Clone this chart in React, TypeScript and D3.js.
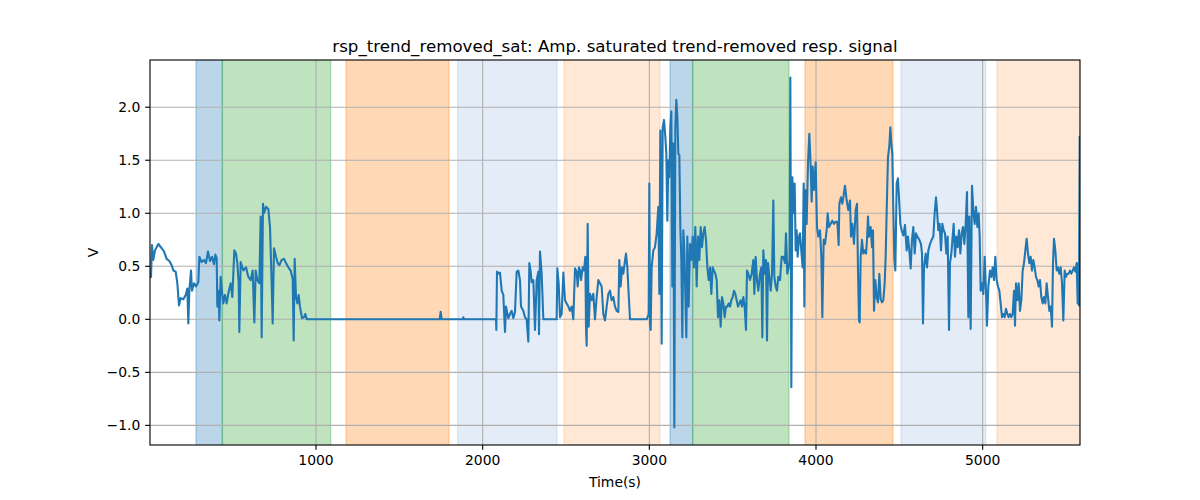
import React from "react";
import * as d3 from "d3";

const TITLE = "rsp_trend_removed_sat: Amp. saturated trend-removed resp. signal";
const X_LABEL = "Time(s)";
const Y_LABEL = "V";

const X_TICKS = [1000, 2000, 3000, 4000, 5000];
const Y_TICKS = [-1.0, -0.5, 0.0, 0.5, 1.0, 1.5, 2.0];

const SPAN_STARTS = [280, 438, 1180, 1850, 2488, 3124, 3260, 3934, 4510, 5086];
const SPAN_ENDS = [438, 1088, 1798, 2446, 3064, 3260, 3838, 4462, 5018, 5584];
const SPAN_KINDS = ["blue", "green", "orange", "lightblue", "lightorange", "blue", "green", "orange", "lightblue", "lightorange"];

const SPAN_STYLE: Record<string, { color: string; opacity: number }> = {
  blue: { color: "#1f77b4", opacity: 0.3 },
  green: { color: "#2ca02c", opacity: 0.3 },
  orange: { color: "#ff7f0e", opacity: 0.3 },
  lightblue: { color: "#78a0d7", opacity: 0.2 },
  lightorange: { color: "#ff7f0e", opacity: 0.17 },
};

// [time (s), amplitude (V)]
const SIGNAL: [number, number][] = [
  [4, 0.40], [10, 0.40], [16, 0.70], [24, 0.56], [34, 0.65], [54, 0.71], [74, 0.67], [88, 0.64], [104, 0.57], [120, 0.55],
  [134, 0.51], [144, 0.46], [158, 0.45], [168, 0.34], [178, 0.13], [188, 0.20], [204, 0.19], [218, 0.23], [228, 0.29], [234, -0.04],
  [240, 0.27], [250, 0.46], [256, 0.27], [268, 0.34], [280, 0.31], [294, 0.35], [300, 0.59], [314, 0.54], [328, 0.56], [340, 0.53],
  [352, 0.64], [364, 0.55], [376, 0.59], [388, 0.52], [396, 0.61], [404, 0.58], [408, 0.12], [416, 0.27], [420, -0.01], [428, 0.40],
  [436, 0.26], [444, 0.15], [454, 0.23], [464, 0.15], [476, 0.26], [488, 0.34], [498, 0.21], [510, 0.65], [520, 0.62], [528, 0.53],
  [536, 0.34], [540, -0.12], [548, 0.54], [564, 0.46], [580, 0.49], [594, 0.40], [608, 0.37], [620, 0.46], [630, -0.03], [638, 0.46],
  [648, 0.37], [660, 0.34], [668, 0.97], [674, -0.17], [682, 1.09], [688, 1.00], [700, 1.06], [714, 1.04], [724, 0.87], [734, 0.34],
  [740, -0.04], [748, 0.67], [760, 0.59], [770, 0.53], [780, 0.51], [794, 0.56], [808, 0.57], [820, 0.53], [834, 0.49], [848, 0.46],
  [860, 0.38], [866, -0.20], [872, 0.57], [880, 0.21], [888, 0.15], [896, 0.23], [904, 0.12], [916, 0.01], [928, 0.02], [936, 0.05],
  [944, 0.0], [1742, 0.0], [1748, 0.07], [1754, 0.0], [1880, 0.0], [1884, 0.02], [1888, 0.0],
  [2080, 0.0], [2082, -0.10], [2086, 0.45], [2094, 0.43], [2104, 0.44], [2114, 0.27], [2124, 0.23], [2134, -0.12], [2140, 0.12], [2154, 0.01],
  [2164, 0.05], [2174, 0.08], [2184, 0.01], [2194, 0.07], [2204, 0.45], [2214, 0.46], [2224, 0.37], [2230, 0.12], [2244, 0.08], [2254, 0.02],
  [2264, 0.0], [2274, -0.21], [2280, 0.53], [2288, 0.45], [2294, 0.35], [2304, 0.37], [2314, -0.10], [2324, 0.37], [2334, 0.45], [2338, -0.14],
  [2344, 0.64], [2354, 0.43], [2364, 0.0], [2444, 0.0], [2448, 0.48], [2456, 0.34], [2464, 0.02], [2474, 0.05], [2484, 0.44], [2494, 0.18],
  [2504, 0.15], [2514, 0.12], [2524, 0.08], [2534, 0.12], [2544, 0.0], [2554, 0.48], [2564, 0.45], [2570, 0.31], [2578, 0.49], [2584, 0.46],
  [2590, 0.37], [2600, 0.49], [2608, 0.46], [2616, 0.59], [2620, -0.07], [2624, -0.25], [2630, 0.90], [2636, -0.07], [2644, 0.24], [2654, 0.18],
  [2664, 0.24], [2674, 0.0], [2684, 0.21], [2694, 0.37],
  [2704, 0.34], [2714, 0.31], [2724, 0.05], [2734, -0.01], [2744, 0.12], [2754, 0.24], [2764, 0.27], [2774, 0.18], [2784, 0.21], [2794, 0.12],
  [2804, 0.08], [2814, 0.07], [2820, 0.56], [2828, 0.31], [2836, 0.49], [2844, 0.43], [2852, 0.53], [2860, 0.62], [2868, 0.49], [2876, 0.24],
  [2884, 0.0], [2984, 0.0], [2996, 0.05], [3000, 1.28], [3004, -0.04], [3008, -0.10], [3014, 0.49], [3024, 0.65], [3034, 0.68], [3044, 0.81],
  [3054, 1.06], [3060, 0.24], [3066, 1.78], [3074, -0.23], [3080, 1.81], [3088, 1.88], [3096, 1.72], [3102, 1.56], [3108, 0.93], [3114, 1.50],
  [3120, 1.34], [3126, 1.81], [3132, 1.96], [3138, 0.31], [3144, 1.66], [3150, -1.02], [3156, 1.81], [3162, 2.07], [3168, 1.91], [3174, 1.56],
  [3180, 1.55], [3186, 0.87], [3192, 0.56], [3198, -0.17], [3204, 0.84], [3210, 0.65], [3216, 0.24], [3222, -0.17], [3228, 0.78], [3236, 0.12],
  [3244, 0.71], [3252, 0.56], [3260, 0.78], [3268, 0.49], [3276, 0.87], [3284, 0.31], [3292, 0.78], [3300, 0.56], [3308, 0.87], [3316, 0.68],
  [3324, 0.81], [3332, 0.87], [3340, 0.75], [3348, 0.49], [3356, 0.37], [3364, 0.49], [3372, 0.24], [3380, 0.49], [3388, 0.46], [3396, 0.43],
  [3404, 0.37], [3412, 0.02], [3420, 0.18], [3428, -0.07], [3436, 0.21], [3444, 0.15], [3452, 0.02], [3460, 0.12], [3468, 0.12], [3476, 0.15],
  [3484, 0.12], [3492, 0.18], [3500, 0.21], [3508, 0.27], [3516, 0.24], [3524, 0.18], [3532, 0.12], [3540, 0.15], [3548, 0.18], [3556, 0.12],
  [3564, 0.21], [3572, 0.12], [3580, -0.10], [3586, 0.46], [3594, 0.43], [3604, 0.37], [3614, 0.43], [3624, 0.56], [3630, 0.24], [3638, 0.59],
  [3646, 0.37], [3654, 0.27], [3664, 0.43], [3672, 0.49], [3678, -0.17], [3684, 0.65], [3692, 0.43], [3700, 0.56], [3706, -0.20], [3712, 0.53],
  [3720, 0.40], [3728, 0.27], [3736, 0.43], [3744, 1.12], [3750, 0.40], [3758, 0.31], [3766, 0.27], [3774, 0.40], [3784, 0.37], [3794, 0.59],
  [3804, 0.59], [3814, 0.53], [3820, 0.81], [3828, 0.43], [3836, 0.49], [3842, 0.56], [3846, 2.28], [3852, -0.64], [3858, 1.34],
  [3866, 1.00], [3872, 1.28], [3878, 0.65], [3884, 0.84], [3890, 0.59], [3898, 0.78], [3904, 0.81], [3910, 0.68], [3920, 0.49], [3926, 1.28],
  [3930, 0.12], [3936, 1.22], [3944, 0.90], [3952, 1.47], [3960, 1.75], [3966, 1.53], [3974, 1.11], [3980, 1.44], [3988, 1.22], [3998, 1.48],
  [4006, 0.87], [4014, 0.78], [4024, 0.84], [4032, 0.59], [4038, 0.02], [4046, 0.75], [4054, 0.71], [4064, 0.84], [4070, 1.00], [4078, 0.87],
  [4088, 0.90], [4098, 0.93], [4108, 0.90], [4118, 0.92], [4128, 0.92], [4136, 0.70], [4140, 1.09], [4150, 1.15], [4158, 1.09], [4164, 1.15],
  [4174, 1.26], [4184, 1.12], [4194, 1.03], [4204, 1.12], [4210, 0.78], [4218, 0.90], [4228, 0.71], [4238, 1.03], [4246, 1.09], [4252, 0.46],
  [4258, -0.01], [4262, -0.03], [4268, 0.59], [4276, 0.75], [4284, 0.62], [4292, 0.65], [4300, 0.62], [4306, 0.75], [4312, 0.97], [4318, 0.78],
  [4328, 0.87], [4336, 0.68], [4342, 0.84], [4348, 0.08], [4356, 0.37], [4364, 0.21], [4372, 0.16], [4380, 0.43], [4388, 0.19], [4396, 0.16],
  [4404, 0.18], [4412, 0.34], [4418, 0.59], [4426, 1.15], [4432, 1.53], [4440, 1.63], [4446, 1.81], [4452, 1.66], [4458, 1.56], [4464, 1.03],
  [4470, 0.56], [4476, 0.46], [4484, 1.28], [4492, 1.33], [4498, 1.15], [4506, 0.90], [4514, 0.84], [4524, 0.79], [4534, 0.89], [4544, 0.65],
  [4552, 0.78], [4560, 0.65], [4568, 0.48], [4576, 0.75], [4584, 0.87], [4592, 0.62], [4600, 0.81], [4608, 0.78], [4620, 0.75], [4630, 0.71],
  [4636, 0.62], [4642, -0.04], [4648, 0.49], [4658, 0.62], [4666, 0.49], [4674, 0.65], [4684, 0.71], [4694, 0.75], [4704, 0.78], [4712, 1.00],
  [4720, 1.15], [4726, 1.03], [4734, 0.84], [4742, 0.90], [4750, 0.65], [4758, 0.90], [4766, 0.84], [4774, 0.81], [4782, 0.62], [4790, 0.78],
  [4798, -0.10], [4804, 0.53], [4812, 0.62], [4820, 0.78], [4826, 0.90], [4834, 0.59], [4842, 0.78], [4850, 0.68], [4858, 0.84], [4866, 0.62],
  [4874, 0.81], [4882, 0.87], [4890, 0.71], [4898, 0.90], [4906, 1.20], [4914, 0.02], [4920, 0.97], [4928, -0.09], [4936, 1.26], [4944, 1.03],
  [4952, 0.90], [4960, 1.06], [4968, 0.87], [4976, 1.00], [4982, 0.78], [4988, 0.27], [4996, 0.34], [5004, 0.24], [5012, 0.59], [5020, 0.27],
  [5026, -0.06], [5034, 0.31], [5044, 0.46], [5052, 0.40], [5060, 0.49], [5068, 0.37], [5076, 0.59], [5084, 0.37], [5092, 0.31], [5100, 0.27],
  [5108, 0.15], [5116, 0.02], [5124, 0.05], [5132, 0.02], [5140, 0.10], [5148, 0.05], [5156, 0.02], [5164, 0.05], [5172, 0.02], [5180, 0.05],
  [5188, 0.27], [5194, -0.06], [5200, 0.34], [5208, 0.18], [5216, 0.34], [5224, 0.08], [5232, 0.18], [5240, 0.46], [5248, 0.53], [5256, 0.65],
  [5264, 0.76], [5272, 0.62], [5280, 0.53], [5288, 0.59], [5296, 0.46], [5304, 0.56], [5312, 0.49], [5320, 0.40], [5328, 0.37], [5336, 0.31],
  [5344, 0.37], [5352, 0.21], [5360, 0.15], [5368, 0.21], [5376, 0.15], [5384, 0.34], [5392, 0.21], [5400, 0.08], [5408, 0.12], [5416, -0.07],
  [5422, 0.53], [5428, 0.76], [5436, 0.65], [5444, 0.46], [5452, 0.49], [5460, 0.43], [5468, 0.49], [5476, 0.34], [5484, -0.01], [5492, 0.46],
  [5500, 0.40], [5508, 0.43], [5516, 0.43], [5524, 0.46], [5532, 0.43], [5540, 0.46], [5548, 0.49], [5556, 0.45], [5564, 0.53], [5570, 0.15],
  [5576, 0.53], [5578, 0.13], [5582, 1.72], [5584, 0.14],
];

const W = 1200;
const H = 500;
const M = { left: 150, right: 1080, top: 60, bottom: 445 };
const FONT = "DejaVu Sans, sans-serif";
const TICK_FS = 13.9;
const PT = 100 / 72;

function fmtY(v: number) {
  const s = Math.abs(v).toFixed(1);
  return v < 0 ? "\u2212" + s : s;
}

export default function App() {
  const xExt = d3.extent(SIGNAL, (d) => d[0]) as [number, number];
  const yExt = d3.extent(SIGNAL, (d) => d[1]) as [number, number];
  const yPad = (yExt[1] - yExt[0]) * 0.05;
  const x = d3.scaleLinear().domain(xExt).range([M.left, M.right]);
  const y = d3.scaleLinear().domain([yExt[0] - yPad, yExt[1] + yPad]).range([M.bottom, M.top]);
  const line = d3
    .line<[number, number]>()
    .x((d) => x(d[0]))
    .y((d) => y(d[1]));

  const tickLen = 3.5 * PT;
  const pad = 3.5 * PT;
  const thin = 0.8 * PT;

  return (
    <svg width={W} height={H} style={{ position: "absolute", left: 0, top: 0, background: "#fff" }} fontFamily={FONT}>
      <defs>
        <clipPath id="ax">
          <rect x={M.left} y={M.top} width={M.right - M.left} height={M.bottom - M.top} />
        </clipPath>
      </defs>
      <rect x={0} y={0} width={W} height={H} fill="#fff" />
      <g clipPath="url(#ax)">
        {SPAN_STARTS.map((s, i) => {
          const st = SPAN_STYLE[SPAN_KINDS[i]];
          return (
            <rect
              key={i}
              x={x(s)}
              y={M.top - 2}
              width={x(SPAN_ENDS[i]) - x(s)}
              height={M.bottom - M.top + 4}
              fill={st.color}
              fillOpacity={st.opacity}
              stroke={st.color}
              strokeOpacity={st.opacity}
              strokeWidth={PT}
            />
          );
        })}
        {X_TICKS.map((t) => (
          <line key={"gx" + t} x1={x(t)} x2={x(t)} y1={M.top} y2={M.bottom} stroke="#b0b0b0" strokeWidth={thin} />
        ))}
        {Y_TICKS.map((t) => (
          <line key={"gy" + t} x1={M.left} x2={M.right} y1={y(t)} y2={y(t)} stroke="#b0b0b0" strokeWidth={thin} />
        ))}
        <path d={line(SIGNAL) || ""} fill="none" stroke="#1f77b4" strokeWidth={1.5 * PT} strokeLinejoin="round" strokeLinecap="square" />
      </g>
      <rect x={M.left} y={M.top} width={M.right - M.left} height={M.bottom - M.top} fill="none" stroke="#000" strokeWidth={thin} />
      {X_TICKS.map((t) => (
        <g key={"tx" + t}>
          <line x1={x(t)} x2={x(t)} y1={M.bottom} y2={M.bottom + tickLen} stroke="#000" strokeWidth={thin} />
          <text x={x(t)} y={M.bottom + tickLen + pad + 10.6} fontSize={TICK_FS} textAnchor="middle" fill="#000">
            {t}
          </text>
        </g>
      ))}
      {Y_TICKS.map((t) => (
        <g key={"ty" + t}>
          <line x1={M.left - tickLen} x2={M.left} y1={y(t)} y2={y(t)} stroke="#000" strokeWidth={thin} />
          <text x={M.left - tickLen - pad} y={y(t) + 5} fontSize={TICK_FS} textAnchor="end" fill="#000">
            {fmtY(t)}
          </text>
        </g>
      ))}
      <text x={(M.left + M.right) / 2} y={M.top - 8.3} fontSize={16.67} textAnchor="middle" fill="#000">
        {TITLE}
      </text>
      <text x={(M.left + M.right) / 2} y={487} fontSize={TICK_FS} textAnchor="middle" fill="#000">
        {X_LABEL}
      </text>
      <text
        transform={`translate(${98},${(M.top + M.bottom) / 2}) rotate(-90)`}
        fontSize={TICK_FS}
        textAnchor="middle"
        fill="#000"
      >
        {Y_LABEL}
      </text>
    </svg>
  );
}
